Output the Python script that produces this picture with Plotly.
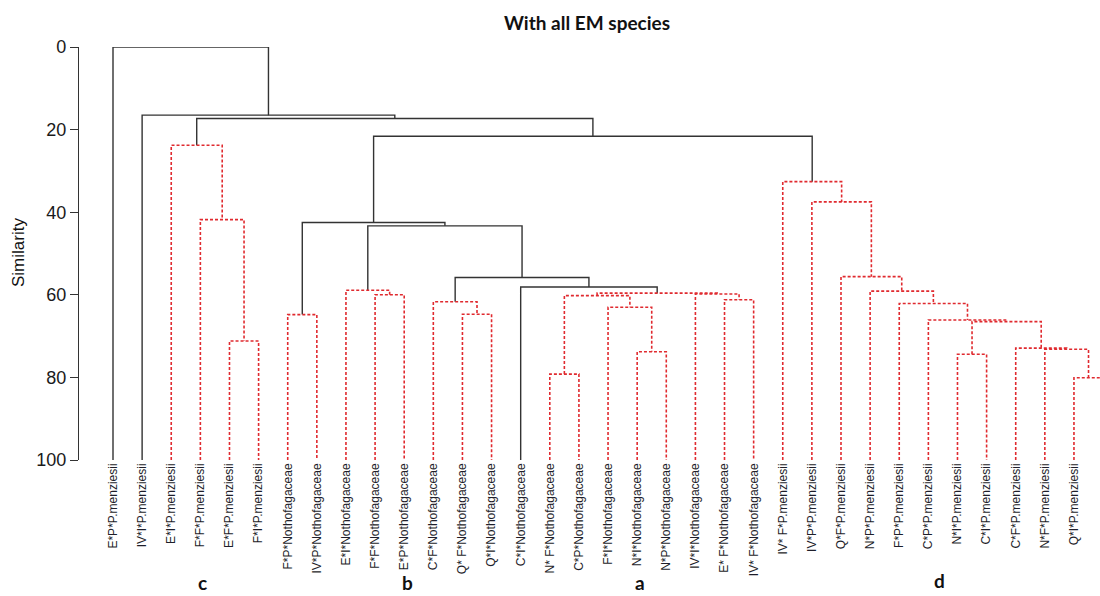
import plotly.graph_objects as go

# ---------------- data ----------------
leaf_labels = [
    "E*P*P.menziesii", "IV*I*P.menziesii", "E*I*P.menziesii", "F*F*P.menziesii",
    "E*F*P.menziesii", "F*I*P.menziesii", "F*P*Nothofagaceae", "IV*P*Nothofagaceae",
    "E*I*Nothofagaceae", "F*F*Nothofagaceae", "E*P*Nothofagaceae", "C*F*Nothofagaceae",
    "Q* F*Nothofagaceae", "Q*I*Nothofagaceae", "C*I*Nothofagaceae", "N* F*Nothofagaceae",
    "C*P*Nothofagaceae", "F*I*Nothofagaceae", "N*I*Nothofagaceae", "N*P*Nothofagaceae",
    "IV*I*Nothofagaceae", "E* F*Nothofagaceae", "IV* F*Nothofagaceae", "IV* F*P.menziesii",
    "IV*P*P.menziesii", "Q*F*P.menziesii", "N*P*P.menziesii", "F*P*P.menziesii",
    "C*P*P.menziesii", "N*I*P.menziesii", "C*I*P.menziesii", "C*F*P.menziesii",
    "N*F*P.menziesii", "Q*I*P.menziesii", "Q*P*P.menziesii",
]

# merges: leaves are referenced by 1-based position, nodes by name
node_name = ["c3", "c2", "c1", "b1", "b3", "b2", "b5", "b4",
             "aF1", "aF3", "aF2", "aF", "aH", "aG", "aE", "D", "C", "B", "A",
             "d10", "d9", "d8", "d74", "d7", "d6", "d5", "d4", "d3", "d2", "d1",
             "N21", "N17", "N16", "root"]
node_left = [5, 4, 3, 7, 10, 9, 13, 12,
             16, 19, 18, "aF1", 22, 21, "aF", 15, "b4", "b2", "b1",
             34, 33, 32, 30, "d74", 29, 28, 27, 26, 25, 24,
             "A", "c1", 2, 1]
node_right = [6, "c3", "c2", 8, 11, "b3", 14, "b5",
              17, 20, "aF3", "aF2", 23, "aH", "aG", "aE", "D", "C", "B",
              35, "d10", "d9", 31, "d8", "d7", "d6", "d5", "d4", "d3", "d2",
              "d1", "N21", "N17", "N16"]
node_height = [71.2, 41.8, 23.8, 64.8, 60.0, 58.9, 64.7, 61.7,
               79.2, 73.8, 63.0, 60.2, 61.2, 59.8, 59.6, 58.1, 55.8, 43.3, 42.5,
               80.1, 73.2, 72.9, 74.4, 66.5, 66.1, 62.1, 59.1, 55.6, 37.5, 32.6,
               21.6, 17.3, 16.5, 0.0]
node_red = [True, True, True, True, True, True, True, True,
            True, True, True, True, True, True, True, False, False, False, False,
            True, True, True, True, True, True, True, True, True, True, True,
            False, False, False, False]

group_letters = ["c", "b", "a", "d"]
group_letter_pos = [4.09, 11.13, 19.1, 29.37]   # positions along leaf axis
y_ticks = [0, 20, 40, 60, 80, 100]

# ---------------- build dendrogram ----------------
pos, hgt = {}, {}
for i in range(1, len(leaf_labels) + 1):
    pos[i] = float(i)
    hgt[i] = 100.0

bx, by, rx, ry = [], [], [], []
for nm, l, r, h, red in zip(node_name, node_left, node_right, node_height, node_red):
    pl, pr = pos[l], pos[r]
    xs = [pl, pl, pr, pr, None]
    ys = [hgt[l], h, h, hgt[r], None]
    if red:
        rx += xs; ry += ys
    else:
        bx += xs; by += ys
    pos[nm] = (pl + pr) / 2.0
    hgt[nm] = h

fig = go.Figure()
fig.add_trace(go.Scatter(x=bx, y=by, mode="lines", hoverinfo="skip",
                         line=dict(color="#333333", width=1.4), showlegend=False))
fig.add_trace(go.Scatter(x=rx, y=ry, mode="lines", hoverinfo="skip",
                         line=dict(color="#e02a2f", width=1.6, dash="3px,2px"),
                         showlegend=False))

# geometry (pixels)
W, H = 1100, 596
L, R, T, B = 79, 0, 47, 136
plot_w = W - L - R
plot_h = H - T - B
px_per_leaf = 29.12
x0 = 1 - (113 - L) / px_per_leaf
x1 = x0 + plot_w / px_per_leaf

def px_to_paper_x(px):
    return (px - L) / plot_w

def px_to_paper_y(py):
    return (H - B - py) / plot_h

n_shown = [i for i in range(1, len(leaf_labels) + 1) if i <= x1]
fig.update_xaxes(range=[x0, x1], showgrid=False, zeroline=False, showline=False,
                 tickmode="array", tickvals=n_shown,
                 ticktext=[leaf_labels[i - 1] for i in n_shown],
                 tickangle=-90, ticks="",
                 tickfont=dict(family="Liberation Sans, Arial", size=12, color="#1e1e2a"))
fig.update_yaxes(range=[100, 0], showgrid=False, zeroline=False,
                 showline=True, linecolor="#333333", linewidth=1.4,
                 ticks="outside", ticklen=8, tickwidth=1.4, tickcolor="#333333",
                 tickvals=y_ticks, ticktext=[str(v) for v in y_ticks],
                 tickfont=dict(family="Liberation Sans, Arial", size=18, color="#1a1a1a"))

annotations = []
# leaf label beyond the right edge (clipped like the original)
for i in range(1, len(leaf_labels) + 1):
    if i > x1:
        annotations.append(dict(x=i, xref="x", y=px_to_paper_y(463), yref="paper",
                                text=leaf_labels[i - 1], showarrow=False, textangle=-90,
                                xanchor="center", yanchor="top",
                                font=dict(family="Liberation Sans, Arial", size=12, color="#1e1e2a")))
# y-axis title
annotations.append(dict(x=px_to_paper_x(18), xref="paper", y=px_to_paper_y(253), yref="paper",
                        text="Similarity", showarrow=False, textangle=-90,
                        xanchor="center", yanchor="middle",
                        font=dict(family="Liberation Sans, Arial", size=17, color="#111")))
# group letters
letter_bottom_py = [596, 596, 596, 594]
for t, p, py in zip(group_letters, group_letter_pos, letter_bottom_py):
    annotations.append(dict(x=p, xref="x", y=px_to_paper_y(py), yref="paper",
                            text="<b>%s</b>" % t, showarrow=False,
                            xanchor="center", yanchor="bottom",
                            font=dict(family="Lato, Open Sans", size=19, color="#111")))
# title
annotations.append(dict(x=px_to_paper_x(587), xref="paper", y=px_to_paper_y(22), yref="paper",
                        text="<b>With all EM species</b>", showarrow=False,
                        xanchor="center", yanchor="middle",
                        font=dict(family="Lato, Open Sans", size=19, color="#111")))

fig.update_layout(width=W, height=H, margin=dict(l=L, r=R, t=T, b=B),
                  paper_bgcolor="white", plot_bgcolor="white",
                  annotations=annotations, showlegend=False)

fig.write_html("out.html")
